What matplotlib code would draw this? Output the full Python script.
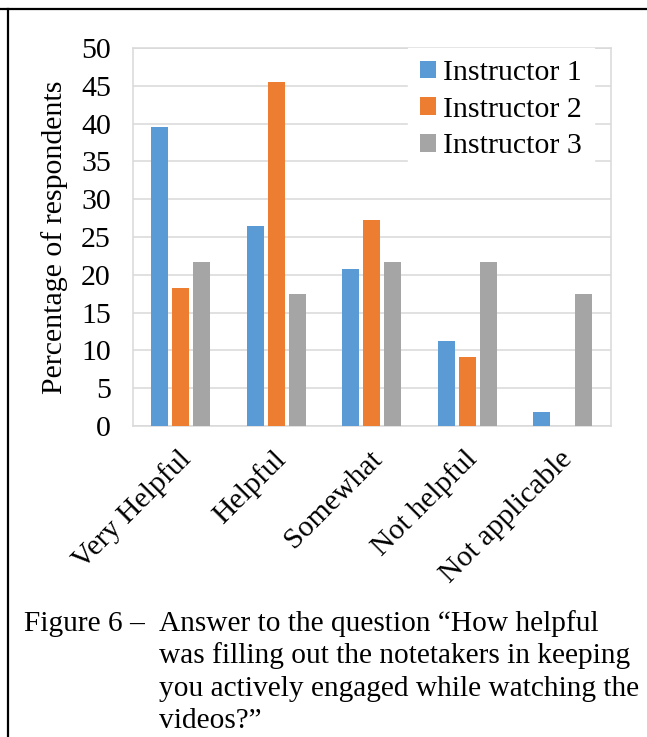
import matplotlib
matplotlib.use("Agg")
import matplotlib.pyplot as plt
import matplotlib.transforms as mtransforms
from matplotlib.lines import Line2D
import numpy as np

categories = ["Very Helpful", "Helpful", "Somewhat", "Not helpful", "Not applicable"]
series_names = ["Instructor 1", "Instructor 2", "Instructor 3"]
instructor1 = [39.6, 26.4, 20.8, 11.3, 1.9]
instructor2 = [18.2, 45.5, 27.3, 9.1, 0.0]
instructor3 = [21.7, 17.4, 21.7, 21.7, 17.4]
yticks = [0, 5, 10, 15, 20, 25, 30, 35, 40, 45, 50]
ylabel = "Percentage of respondents"
caption_head = "Figure 6 \u2013"
caption_lines = ["Answer to the question \u201cHow helpful",
                 "was filling out the notetakers in keeping",
                 "you actively engaged while watching the",
                 "videos?\u201d"]

colors = ["#5B9BD5", "#ED7D31", "#A5A5A5"]
FONT = "Liberation Serif"
FS = 21.5
FS_CAP = 21.2

plt.rcParams['font.family'] = [FONT, 'DejaVu Serif']

W, H = 647, 737
fig = plt.figure(figsize=(W / 100, H / 100), dpi=100)
ax_l, ax_r, ax_t, ax_b = 133, 610.5, 48, 426
ax = fig.add_axes([ax_l / W, 1 - ax_b / H, (ax_r - ax_l) / W, (ax_b - ax_t) / H])

x = np.arange(len(categories))
bw = 0.178
off = 0.222
for i, (vals, name) in enumerate(zip([instructor1, instructor2, instructor3], series_names)):
    ax.bar(x + (i - 1) * off, vals, width=bw, color=colors[i], label=name, zorder=3)

ax.set_xlim(-0.5, len(categories) - 0.5)
ax.set_ylim(0, 50)
ax.set_yticks(yticks)
ax.set_yticklabels([str(t) for t in yticks], fontsize=FS)
ax.yaxis.grid(True, color="#D9D9D9", linewidth=1.1, zorder=0)
ax.set_axisbelow(True)
for s in ax.spines.values():
    s.set_color("#D9D9D9")
    s.set_linewidth(1.1)
ax.tick_params(axis='y', length=0, pad=16)
ax.tick_params(axis='x', length=0, pad=21)

ax.set_xticks(x)
ax.set_xticklabels(categories, fontsize=FS, rotation=45, ha='right', va='center',
                   rotation_mode='anchor')
shift = mtransforms.ScaledTranslation(6 / 100, 0, fig.dpi_scale_trans)
for lbl in ax.get_xticklabels():
    lbl.set_transform(lbl.get_transform() + shift)

ax.set_ylabel(ylabel, fontsize=FS)
ax.yaxis.set_label_coords((68 - ax_l) / (ax_r - ax_l), 0.5)

leg = ax.legend(loc='upper right', bbox_to_anchor=((594 - ax_l) / (ax_r - ax_l), 1.0),
                borderaxespad=0, fontsize=FS, frameon=True, fancybox=False,
                handlelength=0.52, handleheight=0.52, handletextpad=0.25,
                labelspacing=0.36, borderpad=0.4)
leg.get_frame().set_edgecolor('white')
leg.get_frame().set_facecolor('white')
leg.get_frame().set_alpha(1)
leg.set_zorder(5)

# caption
base = 631
step = 32.3
fig.text(24 / W, 1 - base / H, caption_head, fontsize=FS_CAP, ha='left', va='baseline')
for k, line in enumerate(caption_lines):
    fig.text(159 / W, 1 - (base + step * k) / H, line, fontsize=FS_CAP, ha='left', va='baseline')

# frame lines (table cell border)
fig.add_artist(Line2D([0, 1], [1 - 9 / H, 1 - 9 / H], transform=fig.transFigure,
                      color='black', linewidth=1.6))
fig.add_artist(Line2D([8 / W, 8 / W], [0, 1 - 9 / H], transform=fig.transFigure,
                      color='black', linewidth=1.6))

fig.savefig("out.png", dpi=100)
